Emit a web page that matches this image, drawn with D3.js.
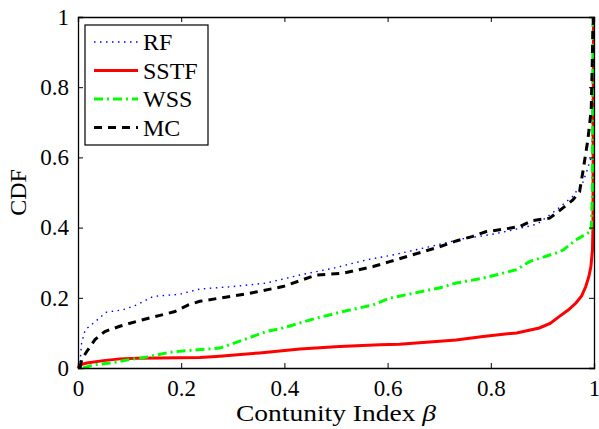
<!DOCTYPE html>
<html>
<head>
<meta charset="utf-8">
<script src="https://cdn.jsdelivr.net/npm/d3@7"></script>
<style>
  body { margin: 0; background: #fff; }
</style>
</head>
<body>
<div class="chart"></div>
<script>
// CDF curves
var rfX   = [0, 0.002, 0.004, 0.007, 0.014, 0.03, 0.055, 0.088, 0.114, 0.146, 0.197, 0.236, 0.30, 0.365, 0.43, 0.494, 0.559, 0.61, 0.68, 0.745, 0.80, 0.842, 0.89, 0.927, 0.958, 0.978, 0.987, 0.9965, 0.997, 0.998];
var rfY   = [0, 0.005, 0.019, 0.071, 0.109, 0.128, 0.159, 0.166, 0.18, 0.204, 0.21, 0.225, 0.232, 0.242, 0.265, 0.284, 0.308, 0.322, 0.345, 0.368, 0.38, 0.393, 0.41, 0.45, 0.488, 0.527, 0.565, 0.61, 0.8, 1];

var sstfX = [0, 0.002, 0.004, 0.017, 0.049, 0.081, 0.114, 0.236, 0.268, 0.352, 0.43, 0.507, 0.585, 0.623, 0.733, 0.785, 0.85, 0.894, 0.915, 0.933, 0.95, 0.965, 0.976, 0.984, 0.99, 0.994, 0.997, 0.998, 0.999];
var sstfY = [0, 0.005, 0.009, 0.014, 0.021, 0.026, 0.028, 0.030, 0.033, 0.043, 0.054, 0.061, 0.066, 0.068, 0.08, 0.09, 0.1, 0.114, 0.127, 0.147, 0.165, 0.185, 0.205, 0.232, 0.26, 0.289, 0.336, 0.4, 1];

var wssX  = [0.01, 0.017, 0.03, 0.062, 0.1, 0.133, 0.178, 0.233, 0.275, 0.32, 0.365, 0.397, 0.462, 0.514, 0.572, 0.604, 0.70, 0.733, 0.785, 0.81, 0.85, 0.875, 0.927, 0.94, 0.965, 0.9946, 0.997, 0.998];
var wssY  = [0, 0.003, 0.009, 0.014, 0.024, 0.031, 0.045, 0.052, 0.057, 0.08, 0.104, 0.114, 0.142, 0.161, 0.18, 0.199, 0.228, 0.242, 0.256, 0.265, 0.28, 0.303, 0.328, 0.336, 0.365, 0.39, 0.5, 1];

var mcX   = [0.004, 0.005, 0.007, 0.017, 0.033, 0.052, 0.081, 0.114, 0.159, 0.188, 0.214, 0.236, 0.333, 0.397, 0.462, 0.514, 0.572, 0.604, 0.70, 0.733, 0.765, 0.79, 0.823, 0.856, 0.88, 0.914, 0.927, 0.959, 0.972, 0.978, 0.988, 0.9946, 0.9965, 0.9977, 0.999];
var mcY   = [0, 0.007, 0.024, 0.047, 0.081, 0.104, 0.119, 0.133, 0.15, 0.161, 0.18, 0.19, 0.213, 0.232, 0.265, 0.27, 0.289, 0.303, 0.345, 0.362, 0.375, 0.388, 0.395, 0.403, 0.42, 0.427, 0.441, 0.479, 0.502, 0.555, 0.649, 0.735, 0.858, 0.953, 1];

var seriesNames = ["RF", "SSTF", "WSS", "MC"];
var xTicks = [0, 0.2, 0.4, 0.6, 0.8, 1];
var yTicks = [0, 0.2, 0.4, 0.6, 0.8, 1];

var width = 599, height = 429;
var margin = { left: 78, right: 5, top: 17, bottom: 61 };
var serif = "Liberation Serif";

var svg = d3.select(".chart").append("svg")
    .attr("width", width)
    .attr("height", height);

var x = d3.scaleLinear().domain([0, 1]).range([margin.left, width - margin.right]);
var y = d3.scaleLinear().domain([0, 1]).range([height - margin.bottom, margin.top]);

// styles per series
var styles = {
    RF:   { color: "#0000ff", width: 1.4, dash: "1.5,4.5" },
    SSTF: { color: "#ff0000", width: 3,   dash: null },
    WSS:  { color: "#00ff00", width: 3,   dash: "9,4,2,4" },
    MC:   { color: "#000000", width: 3,   dash: "8,6" }
};

function zipXY(xs, ys) {
    return xs.map(function (v, i) { return [v, ys[i]]; });
}

var series = [
    { name: "RF",   pts: zipXY(rfX, rfY) },
    { name: "SSTF", pts: zipXY(sstfX, sstfY) },
    { name: "WSS",  pts: zipXY(wssX, wssY) },
    { name: "MC",   pts: zipXY(mcX, mcY) }
];

var line = d3.line()
    .x(function (d) { return x(d[0]); })
    .y(function (d) { return y(d[1]); });

svg.append("g").selectAll("path")
    .data(series)
    .enter()
    .append("path")
    .attr("d", function (d) { return line(d.pts); })
    .attr("fill", "none")
    .attr("stroke", function (d) { return styles[d.name].color; })
    .attr("stroke-width", function (d) { return styles[d.name].width; })
    .attr("stroke-dasharray", function (d) { return styles[d.name].dash; });

// axes, ticks inward on all four sides
var tickLen = 5;
var fmt = function (d) { return d === 0 || d === 1 ? String(d) : d3.format(".1f")(d); };

var xAxis = svg.append("g")
    .attr("transform", "translate(0," + y(0) + ")")
    .call(d3.axisBottom(x).tickValues(xTicks).tickSize(-tickLen).tickPadding(12).tickFormat(fmt));
var yAxis = svg.append("g")
    .attr("transform", "translate(" + x(0) + ",0)")
    .call(d3.axisLeft(y).tickValues(yTicks).tickSize(-tickLen).tickPadding(9).tickFormat(fmt));
var xTop = svg.append("g")
    .attr("transform", "translate(0," + y(1) + ")")
    .call(d3.axisTop(x).tickValues(xTicks).tickSize(-tickLen).tickFormat(""));
var yRight = svg.append("g")
    .attr("transform", "translate(" + x(1) + ",0)")
    .call(d3.axisRight(y).tickValues(yTicks).tickSize(-tickLen).tickFormat(""));

[xAxis, yAxis, xTop, yRight].forEach(function (g) {
    g.attr("font-family", serif).attr("font-size", 23);
    g.select(".domain").attr("stroke", "#000").attr("stroke-width", 1.3);
    g.selectAll(".tick line").attr("stroke", "#000").attr("stroke-width", 1);
    g.selectAll(".tick text").attr("fill", "#000").attr("font-family", serif);
});

// axis labels
svg.append("text")
    .attr("x", (x(0) + x(1)) / 2)
    .attr("y", 421)
    .attr("text-anchor", "middle")
    .attr("font-family", serif)
    .attr("font-size", 23)
    .attr("textLength", 200)
    .attr("lengthAdjust", "spacingAndGlyphs")
    .html('Contunity Index <tspan font-style="italic">β</tspan>');

svg.append("text")
    .attr("transform", "translate(26," + ((y(0) + y(1)) / 2) + ") rotate(-90)")
    .attr("text-anchor", "middle")
    .attr("font-family", serif)
    .attr("font-size", 24)
    .text("CDF");

// legend
var legend = svg.append("g");
legend.append("rect")
    .attr("x", 85).attr("y", 25)
    .attr("width", 123).attr("height", 120)
    .attr("fill", "#fff")
    .attr("stroke", "#000")
    .attr("stroke-width", 1.2);

var rows = legend.selectAll("g.row")
    .data(seriesNames)
    .enter()
    .append("g")
    .attr("class", "row")
    .attr("transform", function (d, i) { return "translate(0," + (42 + i * 28.5) + ")"; });

rows.append("line")
    .attr("x1", 94).attr("x2", 138)
    .attr("y1", 0).attr("y2", 0)
    .attr("stroke", function (d) { return styles[d].color; })
    .attr("stroke-width", function (d) { return styles[d].width; })
    .attr("stroke-dasharray", function (d) { return styles[d].dash; });

rows.append("text")
    .attr("x", 143)
    .attr("y", 8)
    .attr("font-family", serif)
    .attr("font-size", 24)
    .text(function (d) { return d; });
</script>
</body>
</html>
